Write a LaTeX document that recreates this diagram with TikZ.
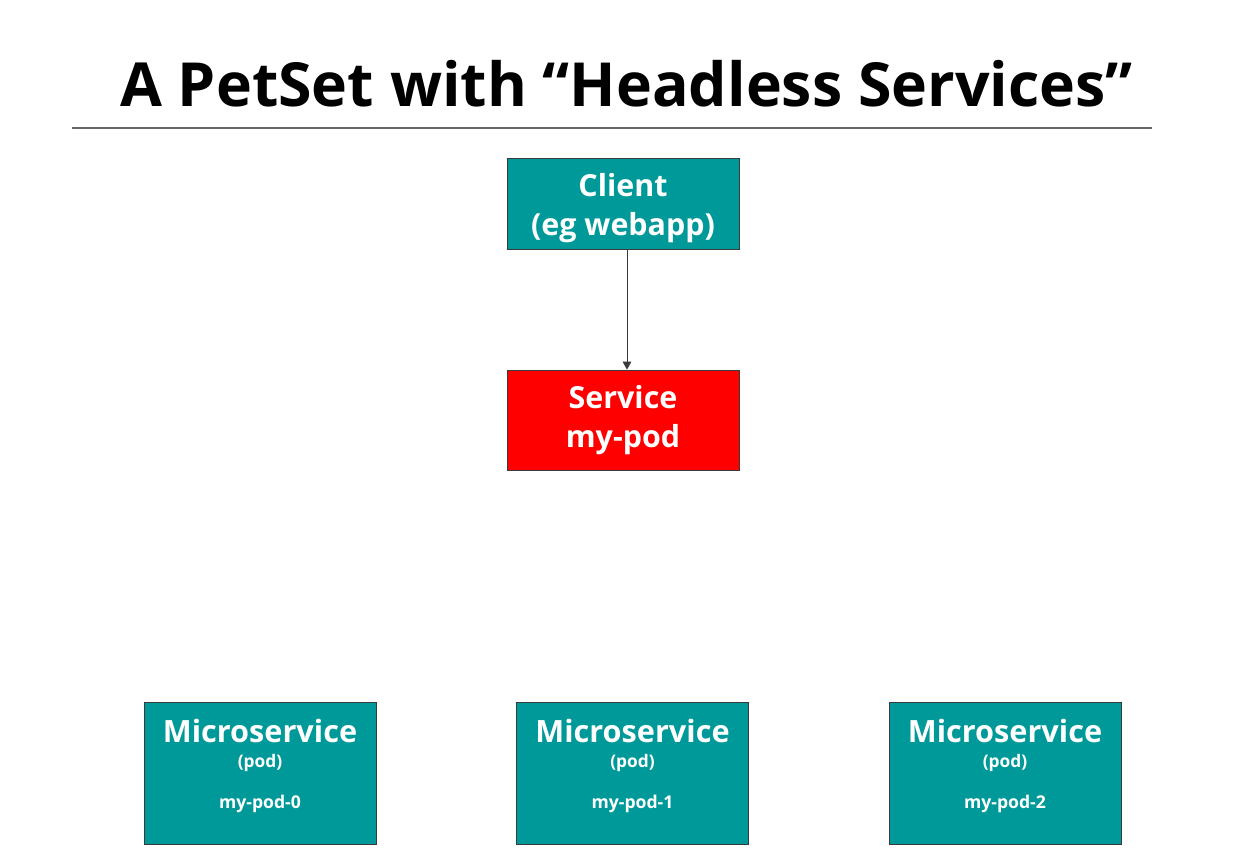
\documentclass[tikz,border=0pt]{standalone}
\usepackage{fontspec}
\setmainfont{Open Sans}
\usetikzlibrary{arrows.meta}
\definecolor{teal1}{HTML}{009999}
\definecolor{red1}{HTML}{FF0000}
\definecolor{edge1}{HTML}{3A3A3A}
\tikzset{
  box/.style={draw=edge1, line width=0.6pt, inner sep=0pt},
  txt/.style={text=white, font=\bfseries, inner sep=0pt, align=center},
}
\begin{document}
\begin{tikzpicture}[x=0.75pt,y=-0.75pt]
\useasboundingbox (0,0) rectangle (1240,847);
% title
\node[inner sep=0pt, font=\fontsize{45.6}{50}\selectfont\bfseries] (title) at (626.5,84) {A PetSet with “Headless Services”};
\coordinate (r1) at (72,128);
\coordinate (r2) at (1152,128);
\draw[draw=gray!80!black, line width=0.9pt] (r1) -- (r2);
% client
\node[box, fill=teal1, minimum width=174pt, minimum height=68.25pt] (client) at (623,203.5) {};
\node[txt, font=\fontsize{22.8}{29.5}\selectfont\bfseries] (clientt) at (623,208) {Client\\(eg webapp)};
% service
\node[box, fill=red1, minimum width=174pt, minimum height=75pt] (service) at (623,420) {};
\node[txt, font=\fontsize{22.8}{29.5}\selectfont\bfseries] (servicet) at (623,420) {Service\\my-pod};
% arrow
\draw[draw=edge1, line width=0.7pt, -{Triangle[length=6pt,width=6.5pt]}] ([xshift=3pt]client.south) -- ([xshift=3pt]service.north);
% microservices
\foreach \i/\x in {0/260,1/632.5,2/1005}{
  \node[box, fill=teal1, minimum width=174pt, minimum height=106.5pt] (ms\i) at (\x,773) {};
  \node[txt, font=\fontsize{23}{26}\selectfont\bfseries] (mst\i) at (\x,731) {Microservice};
  \node[txt, font=\fontsize{13}{15}\selectfont\bfseries] (msp\i) at (\x,763) {(pod)};
  \node[txt, font=\fontsize{13.2}{15}\selectfont\bfseries] (msn\i) at (\x,804) {my-pod-\i};
}
\end{tikzpicture}
\end{document}
